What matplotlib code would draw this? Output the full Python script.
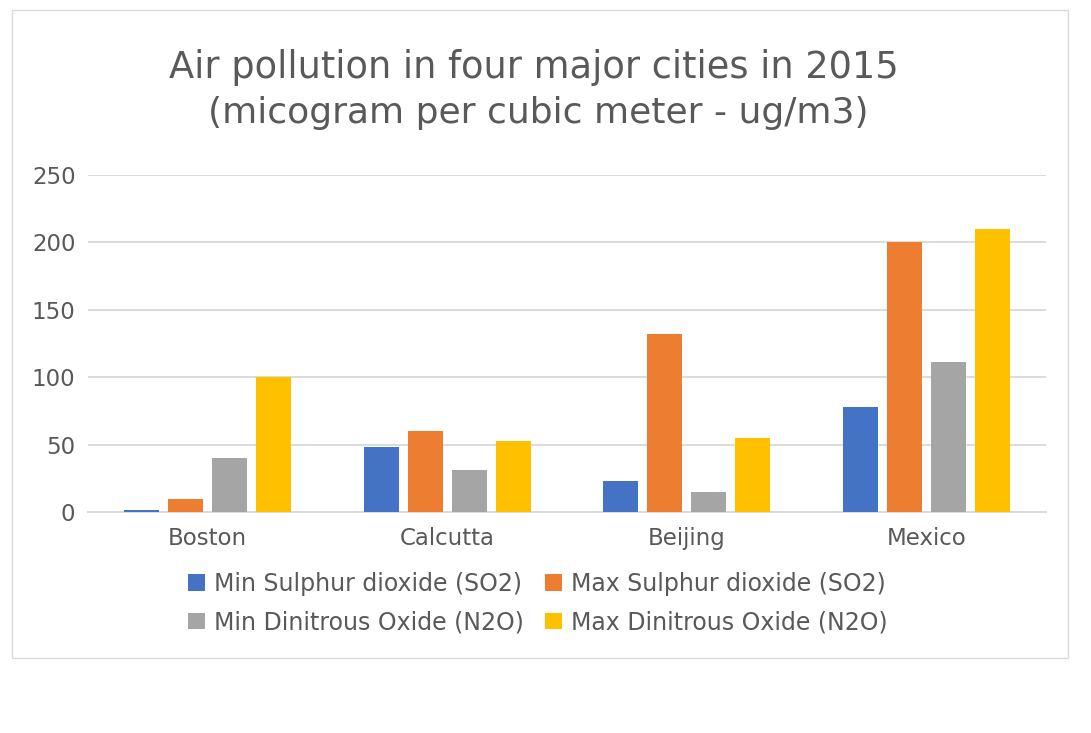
import matplotlib
matplotlib.use("Agg")
import matplotlib.pyplot as plt
import numpy as np
from matplotlib.patches import Rectangle

cities = ["Boston", "Calcutta", "Beijing", "Mexico"]
series_names = ["Min Sulphur dioxide (SO2)", "Max Sulphur dioxide (SO2)",
                "Min Dinitrous Oxide (N2O)", "Max Dinitrous Oxide (N2O)"]
min_so2 = [1.5, 48, 23, 78]
max_so2 = [10, 60, 132, 200]
min_n2o = [40, 31, 15, 111]
max_n2o = [100, 53, 55, 210]
yticks = [0, 50, 100, 150, 200, 250]

colors = ["#4472C4", "#ED7D31", "#A5A5A5", "#FFC000"]
txt = "#595959"

plt.rcParams['font.family'] = ['DejaVu Sans']
fig = plt.figure(figsize=(10.91, 7.33), dpi=100)
W, H = 1091, 733
# chart border
fig.patches.append(Rectangle((12 / W, 1 - 658 / H), (1068 - 12) / W, (658 - 10) / H,
                             transform=fig.transFigure, fill=False,
                             edgecolor="#D9D9D9", linewidth=1))

ax = fig.add_axes([88 / W, 1 - 512 / H, (1046 - 88) / W, (512 - 175) / H])
data = [min_so2, max_so2, min_n2o, max_n2o]
x = np.arange(len(cities))
bw = 0.146
step = 0.184
handles = []
for i, (vals, c, name) in enumerate(zip(data, colors, series_names)):
    b = ax.bar(x + (i - 1.5) * step, vals, width=bw, color=c, label=name, zorder=3)
    handles.append(b)

ax.set_xlim(-0.5, 3.5)
ax.set_ylim(0, 250)
ax.set_yticks(yticks)
ax.set_xticks(x)
ax.set_xticklabels(cities)
ax.yaxis.grid(True, color="#D9D9D9", linewidth=1.3, zorder=0)
for s in ["top", "right", "left"]:
    ax.spines[s].set_visible(False)
ax.spines["bottom"].set_color("#D9D9D9")
ax.spines["bottom"].set_linewidth(1.3)
ax.tick_params(axis="both", length=0, labelsize=16.5, labelcolor=txt)
ax.tick_params(axis="x", pad=11)
ax.tick_params(axis="y", pad=9)

fig.text(534 / W, 1 - 68 / H, "Air pollution in four major cities in 2015",
         ha="center", va="center", fontsize=26.5, color=txt)
fig.text(538 / W, 1 - 113 / H, "(micogram per cubic meter - ug/m3)",
         ha="center", va="center", fontsize=26, color=txt)

order = [0, 2, 1, 3]
leg = fig.legend([handles[k] for k in order], [series_names[k] for k in order],
                 loc="center", bbox_to_anchor=(538 / W, 1 - 603 / H), ncol=2,
                 frameon=False, fontsize=17, handlelength=0.7, handleheight=0.7,
                 handletextpad=0.4, columnspacing=0.9, labelspacing=0.6)
for t in leg.get_texts():
    t.set_color(txt)

fig.savefig("out.png", dpi=100)
